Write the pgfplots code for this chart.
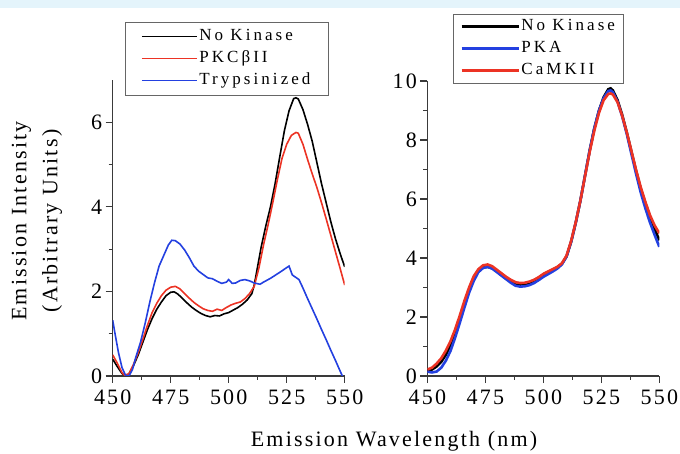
\documentclass[border=0pt]{standalone}
\usepackage{fontspec}
\setmainfont{Liberation Serif}[LetterSpace=10]
\newfontfamily\legfont{Liberation Serif}[LetterSpace=18]
\usepackage{pgfplots}
\pgfplotsset{compat=1.18}

\definecolor{kblue}{HTML}{2340E0}
\definecolor{kred}{HTML}{EC3324}
\definecolor{band}{HTML}{E4F4FB}
\definecolor{axgray}{HTML}{3A3A3A}

\pgfplotsset{
  spec/.style={
    scale only axis, width=232bp,
    xmin=450, xmax=550, ymin=0,
    axis lines*=left,
    axis line style={axgray, line width=1.2bp},
    every tick/.style={axgray, line width=1.2bp},
    tick align=outside,
    major tick length=7bp, minor tick length=4bp,
    xtick={450,475,...,550},
    minor xtick={462.5,487.5,512.5,537.5},
    /pgf/number format/assume math mode=true,
    tick label style={font=\fontsize{22bp}{26bp}\selectfont},
    xticklabel style={yshift=-3bp},
    legend cell align=left,
    legend style={draw=black!60, fill=white,
      font=\legfont\fontsize{17bp}{20bp}\selectfont,
      inner ysep=3bp, row sep=3bp,
      nodes={inner sep=1.5bp, text height=12bp, text depth=4bp}},
  },
}

\begin{document}
\begin{tikzpicture}
\useasboundingbox (0,0) rectangle (680bp,454bp);

% left panel
\begin{axis}[spec,
  at={(112.7bp,78bp)}, anchor=south west, height=296bp,
  ymax=7, ytick={0,2,4,6}, minor ytick={1,3,5},
  legend style={at={(axis description cs:0.053,0.949)}, anchor=south west,
    inner xsep=16bp, inner ysep=5bp},
  legend image code/.code={\draw[#1] (0bp,0bp) -- (55bp,0bp);},
]
\addplot[black, line width=1.6bp, forget plot] coordinates {
(450,0.40) (452,0.22) (454,0.06) (455.5,0.0) (457,0.05) (459,0.25) (461,0.50)
(463,0.80) (465,1.10) (467,1.36) (469,1.58) (471,1.75) (473,1.90) (475,1.98)
(476.5,1.99) (478,1.94) (480,1.84) (482,1.73) (484,1.63) (486,1.55) (488,1.48)
(490,1.43) (492,1.40) (494,1.43) (496,1.42) (498,1.47) (500,1.50) (502,1.56)
(504,1.62) (506,1.70) (508,1.80) (510,1.95) (511,2.15) (512,2.45) (514,3.05)
(516,3.55) (518,4.00) (520,4.55) (522,5.18) (524,5.80) (526,6.27) (528,6.56)
(529,6.58) (530,6.55) (532,6.30) (534,5.95) (536,5.55) (538,5.05) (540,4.55)
(542,4.10) (544,3.65) (546,3.25) (548,2.90) (550,2.58)
};
\addplot[kred, line width=1.6bp, forget plot] coordinates {
(450,0.50) (452,0.30) (454,0.08) (455,0.02) (457,0.05) (459,0.28) (461,0.55)
(463,0.87) (465,1.20) (467,1.50) (469,1.72) (471,1.90) (473,2.03) (475,2.10)
(477,2.12) (479,2.06) (481,1.95) (483,1.84) (485,1.74) (487,1.66) (489,1.59)
(491,1.55) (493,1.53) (495,1.58) (497,1.55) (499,1.62) (501,1.68) (503,1.72)
(505,1.75) (507,1.83) (509,1.95) (511,2.12) (513,2.55) (515,3.10) (517,3.58)
(519,4.10) (521,4.65) (523,5.15) (525,5.48) (527,5.69) (529,5.76) (530,5.74)
(532,5.48) (534,5.12) (536,4.78) (538,4.46) (540,4.10) (542,3.72) (544,3.33)
(546,2.94) (548,2.55) (550,2.15)
};
\addplot[kblue, line width=1.6bp, forget plot] coordinates {
(450,1.32) (451,1.00) (452.5,0.55) (454,0.20) (455.5,0.02) (457,0.0) (458.5,0.15)
(460,0.45) (462,0.80) (464,1.25) (466,1.75) (468,2.20) (470,2.60) (472,2.85)
(474,3.10) (475.5,3.21) (477,3.20) (479,3.12) (481,2.98) (483,2.80) (485,2.60)
(487,2.48) (489,2.40) (491,2.32) (493,2.30) (495,2.24) (497,2.19) (499,2.22)
(500,2.28) (501.5,2.19) (503,2.20) (505,2.26) (507,2.28) (509,2.25) (511,2.20)
(513.5,2.17) (515,2.22) (518,2.31) (520,2.38) (522.5,2.47) (526,2.60) (527.4,2.39)
(530.3,2.28) (532,2.08) (534,1.83) (536,1.59) (538,1.35) (540,1.10) (542,0.86)
(544,0.61) (546,0.37) (548,0.12) (549,0.0)
};
\addlegendimage{black, line width=1.6bp}
\addlegendentry{No Kinase}
\addlegendimage{kred, line width=1.6bp}
\addlegendentry{PKCβII}
\addlegendimage{kblue, line width=1.6bp}
\addlegendentry{Trypsinized}
\end{axis}

% right panel
\begin{axis}[spec,
  at={(427.3bp,78bp)}, anchor=south west, height=295bp,
  ymax=10, ytick={0,2,...,10}, minor ytick={1,3,...,9},
  legend style={at={(axis description cs:0.111,0.993)}, anchor=south west,
    inner xsep=7bp},
  legend image code/.code={\draw[#1] (0bp,0bp) -- (57bp,0bp);},
]
\addplot[black, line width=2.6bp, forget plot] coordinates {
(450,0.20) (452,0.22) (454,0.32) (456,0.48) (458,0.72) (460,1.05) (462,1.45)
(464,1.95) (466,2.45) (468,2.92) (470,3.30) (472,3.55) (474,3.68) (476,3.70)
(478,3.65) (480,3.55) (482,3.42) (484,3.30) (486,3.20) (488,3.10) (490,3.07)
(492,3.08) (494,3.12) (496,3.20) (498,3.32) (500,3.44) (502,3.52) (504,3.60)
(506,3.68) (508,3.80) (510,4.05) (512,4.55) (514,5.20) (516,5.95) (518,6.80)
(520,7.65) (522,8.40) (524,9.00) (526,9.45) (528,9.72) (529,9.75) (530,9.68)
(532,9.35) (534,8.85) (536,8.25) (538,7.60) (540,6.95) (542,6.35) (544,5.85)
(546,5.40) (548,4.98) (550,4.60)
};
\addplot[kblue, line width=2.6bp, forget plot] coordinates {
(450,0.15) (452,0.12) (454,0.15) (456,0.28) (458,0.52) (460,0.85) (462,1.30)
(464,1.80) (466,2.32) (468,2.82) (470,3.22) (472,3.52) (474,3.66) (476,3.70)
(478,3.64) (480,3.52) (482,3.40) (484,3.28) (486,3.16) (488,3.06) (490,3.03)
(492,3.04) (494,3.08) (496,3.15) (498,3.25) (500,3.36) (502,3.45) (504,3.54)
(506,3.64) (508,3.78) (510,4.05) (512,4.55) (514,5.20) (516,5.95) (518,6.80)
(520,7.65) (522,8.40) (524,9.00) (526,9.42) (528,9.66) (529,9.68) (530,9.62)
(532,9.30) (534,8.80) (536,8.20) (538,7.52) (540,6.85) (542,6.22) (544,5.68)
(546,5.20) (548,4.78) (550,4.38)
};
\addplot[kred, line width=2.6bp, forget plot] coordinates {
(450,0.22) (452,0.28) (454,0.42) (456,0.60) (458,0.86) (460,1.18) (462,1.58)
(464,2.05) (466,2.55) (468,3.00) (470,3.38) (472,3.62) (474,3.75) (476,3.78)
(478,3.72) (480,3.60) (482,3.48) (484,3.36) (486,3.26) (488,3.18) (490,3.15)
(492,3.16) (494,3.20) (496,3.26) (498,3.35) (500,3.46) (502,3.54) (504,3.62)
(506,3.70) (508,3.82) (510,4.08) (512,4.58) (514,5.22) (516,5.95) (518,6.78)
(520,7.60) (522,8.32) (524,8.92) (526,9.35) (528,9.56) (529,9.58) (530,9.54)
(532,9.28) (534,8.82) (536,8.25) (538,7.62) (540,6.98) (542,6.40) (544,5.90)
(546,5.45) (548,5.10) (550,4.84)
};
\addlegendimage{black, line width=2.6bp}
\addlegendentry{No Kinase}
\addlegendimage{kblue, line width=2.6bp}
\addlegendentry{PKA}
\addlegendimage{kred, line width=2.6bp}
\addlegendentry{CaMKII}
\end{axis}

\node[anchor=center, rotate=90, align=center,
  font=\fontsize{22bp}{31bp}\selectfont] at (37bp,233bp)
  {Emission Intensity\\(Arbitrary  Units)};
\node[anchor=base, font=\fontsize{22bp}{26bp}\selectfont] at (394bp,8bp)
  {Emission Wavelength (nm)};

\fill[band] (0,446bp) rectangle (680bp,454bp);
\end{tikzpicture}
\end{document}
